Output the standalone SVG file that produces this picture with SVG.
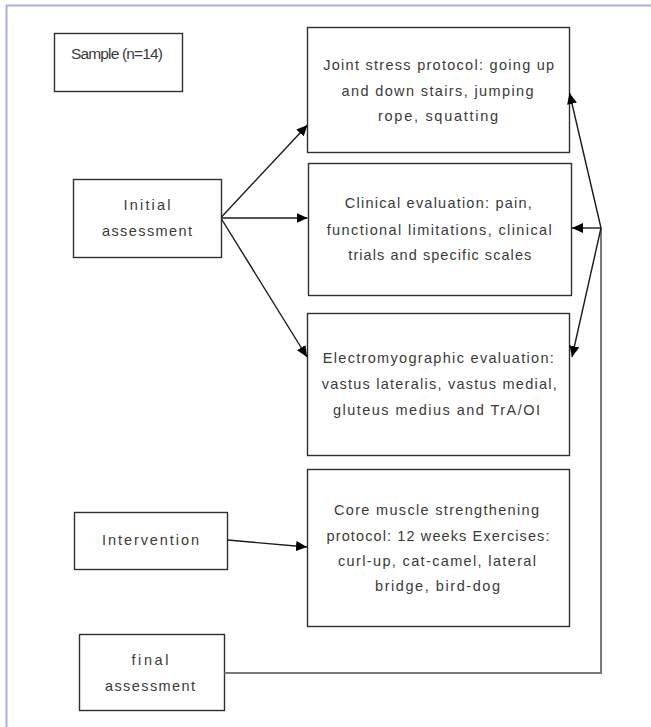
<svg xmlns="http://www.w3.org/2000/svg" width="651" height="727" viewBox="0 0 651 727">
<style>
.box{fill:#ffffff;stroke:#303030;stroke-width:1.4}
.t{font-family:"Liberation Sans",Arial,sans-serif;font-size:14.5px;fill:#3a3a3a;text-anchor:middle}
.c{stroke:#1a1a1a;stroke-width:1.4;fill:none}
.g{stroke:#7a7a7a;stroke-width:2;fill:none}
</style>
<defs>
<marker id="ah" markerUnits="userSpaceOnUse" markerWidth="12" markerHeight="10" refX="11" refY="5" orient="auto">
<path d="M0,0 L11,5 L0,10 z" fill="#000"/>
</marker>
</defs>
<rect x="0" y="0" width="651" height="727" fill="#ffffff"/>
<path d="M6.5,740 L6.5,5.5 L660,5.5" fill="none" stroke="#aab0dc" stroke-width="2"/>

<g id="sample">
<rect class="box" x="54.5" y="33.5" width="128" height="58"/>
<text class="t" x="117" y="59" style="font-size:15.5px" textLength="92" lengthAdjust="spacing">Sample (n=14)</text>
</g>

<g id="initial">
<rect class="box" x="73.5" y="179.5" width="148" height="78"/>
<text class="t" x="147" y="210" textLength="47" lengthAdjust="spacing">Initial</text>
<text class="t" x="147" y="236" textLength="90" lengthAdjust="spacing">assessment</text>
</g>

<g id="joint">
<rect class="box" x="307.5" y="27.5" width="262" height="125"/>
<text class="t" x="438.7" y="70" textLength="231" lengthAdjust="spacing">Joint stress protocol: going up</text>
<text class="t" x="437.5" y="96" textLength="192" lengthAdjust="spacing">and down stairs, jumping</text>
<text class="t" x="438" y="121" textLength="120" lengthAdjust="spacing">rope, squatting</text>
</g>

<g id="clinical">
<rect class="box" x="308.5" y="163.5" width="263" height="132"/>
<text class="t" x="438.3" y="208" textLength="187" lengthAdjust="spacing">Clinical evaluation: pain,</text>
<text class="t" x="439.2" y="235" textLength="225" lengthAdjust="spacing">functional limitations, clinical</text>
<text class="t" x="439.8" y="260" textLength="183" lengthAdjust="spacing">trials and specific scales</text>
</g>

<g id="emg">
<rect class="box" x="307.5" y="313.5" width="262" height="142"/>
<text class="t" x="438.3" y="363" textLength="231" lengthAdjust="spacing">Electromyographic evaluation:</text>
<text class="t" x="439.2" y="389" textLength="235" lengthAdjust="spacing">vastus lateralis, vastus medial,</text>
<text class="t" x="436.5" y="415" textLength="207" lengthAdjust="spacing">gluteus medius and TrA/OI</text>
</g>

<g id="intervention">
<rect class="box" x="74.5" y="512.5" width="153" height="57"/>
<text class="t" x="150.5" y="545" textLength="97" lengthAdjust="spacing">Intervention</text>
</g>

<g id="core">
<rect class="box" x="307.5" y="469.5" width="262" height="157"/>
<text class="t" x="436.5" y="515" textLength="205" lengthAdjust="spacing">Core muscle strengthening</text>
<text class="t" x="438" y="541" textLength="223" lengthAdjust="spacing">protocol: 12 weeks Exercises:</text>
<text class="t" x="437" y="566" textLength="198" lengthAdjust="spacing">curl-up, cat-camel, lateral</text>
<text class="t" x="437.5" y="591" textLength="125" lengthAdjust="spacing">bridge, bird-dog</text>
</g>

<g id="final">
<rect class="box" x="79.5" y="634.5" width="145" height="76"/>
<text class="t" x="150" y="665" textLength="37" lengthAdjust="spacing">final</text>
<text class="t" x="150" y="691" textLength="90" lengthAdjust="spacing">assessment</text>
</g>

<g id="connectors">
<line class="c" x1="221.5" y1="217" x2="307.5" y2="125" marker-end="url(#ah)"/>
<line class="c" x1="221.5" y1="218" x2="307.5" y2="218" marker-end="url(#ah)"/>
<line class="c" x1="221.5" y1="219" x2="307" y2="357" marker-end="url(#ah)"/>
<line class="c" x1="227.5" y1="540" x2="307" y2="547" marker-end="url(#ah)"/>
<path class="g" d="M224.5,673 L601,673 L601,228"/>
<line class="c" x1="601" y1="228" x2="569.5" y2="93" marker-end="url(#ah)"/>
<line class="c" x1="601" y1="228" x2="572" y2="228" marker-end="url(#ah)"/>
<line class="c" x1="601" y1="228" x2="572" y2="357" marker-end="url(#ah)"/>
</g>
</svg>
